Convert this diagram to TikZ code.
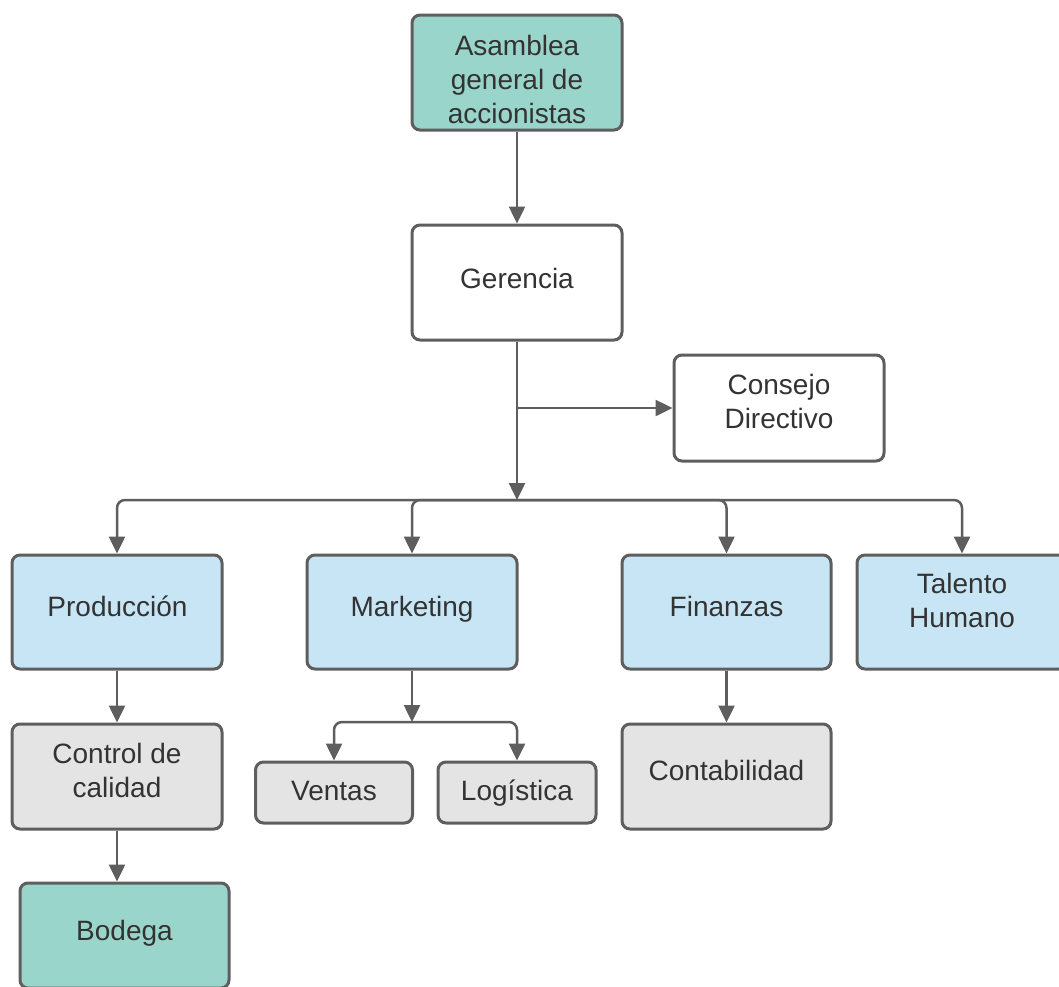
\documentclass[tikz,border=0pt]{standalone}
\usepackage{fontspec}
\setmainfont{Liberation Sans}
\usetikzlibrary{arrows.meta}
\definecolor{tealfill}{HTML}{99D5CA}
\definecolor{bluefill}{HTML}{C7E5F5}
\definecolor{grayfill}{HTML}{E4E4E4}
\definecolor{linec}{HTML}{5E5E5E}
\definecolor{textc}{HTML}{333333}
\newcommand{\txtline}[1]{#1\strut}
\begin{document}
\begin{tikzpicture}[x=1pt,y=-1pt,
  box/.style={draw=linec, line width=3pt, rounded corners=8pt, inner sep=0pt},
  txt/.style={text=textc, font=\fontsize{28}{34}\selectfont, align=center, inner sep=0pt},
  teal box/.style={box, fill=tealfill},
  white box/.style={box, fill=white},
  blue box/.style={box, fill=bluefill},
  gray box/.style={box, fill=grayfill},
  conn/.style={draw=linec, line width=2.5pt, rounded corners=8pt,
    -{Triangle[width=16pt,length=17pt]}}]
\useasboundingbox (0,0) rectangle (1059,986);
\clip (0,0) rectangle (1059,986);
\fill[white] (0,0) rectangle (1059,986);

% boxes
\node[teal box, minimum width=210pt, minimum height=115pt] (asam) at (517,72.5) {};
\node[white box, minimum width=210pt, minimum height=115pt] (ger) at (517,282.5) {};
\node[white box, minimum width=210pt, minimum height=106pt] (cons) at (779,408) {};
\node[blue box, minimum width=210pt, minimum height=114pt] (prod) at (117,612) {};
\node[blue box, minimum width=210pt, minimum height=114pt] (mkt) at (412,612) {};
\node[blue box, minimum width=209pt, minimum height=114pt] (fin) at (726.5,612) {};
\node[blue box, minimum width=210pt, minimum height=114pt] (tal) at (962,612) {};
\node[gray box, minimum width=210pt, minimum height=105pt] (ctrl) at (117,776.5) {};
\node[gray box, minimum width=157pt, minimum height=61pt] (ven) at (334,792.5) {};
\node[gray box, minimum width=158pt, minimum height=61pt] (log) at (517,792.5) {};
\node[gray box, minimum width=209pt, minimum height=105pt] (cont) at (726.5,776.5) {};
\node[teal box, minimum width=209pt, minimum height=105pt] (bod) at (124.5,935.5) {};

% texts
\node[txt] (asam-t) at (517,82.2) {\txtline{Asamblea}\\\txtline{general de}\\\txtline{accionistas}};
\node[txt] (ger-t) at (517,281.2) {\txtline{Gerencia}};
\node[txt] (cons-t) at (779,404.9) {\txtline{Consejo}\\\txtline{Directivo}};
\node[txt] (prod-t) at (117.5,610) {\txtline{Producción}};
\node[txt] (mkt-t) at (412,610) {\txtline{Marketing}};
\node[txt] (fin-t) at (726.5,610) {\txtline{Finanzas}};
\node[txt] (tal-t) at (962,603.2) {\txtline{Talento}\\\txtline{Humano}};
\node[txt] (ctrl-t) at (117,773.2) {\txtline{Control de}\\\txtline{calidad}};
\node[txt] (ven-t) at (334,794) {\txtline{Ventas}};
\node[txt] (log-t) at (517,794) {\txtline{Logística}};
\node[txt] (cont-t) at (726.5,774) {\txtline{Contabilidad}};
\node[txt] (bod-t) at (124.5,934) {\txtline{Bodega}};

% connectors
\coordinate (j) at (517,500);
\coordinate (b) at (517,408);
\coordinate (mj) at (412,722);

\draw[conn] (asam.south) -- (ger.north);
\draw[conn] (ger.south) -- (j);
\draw[conn] (b) -- (cons.west);
\draw[conn] (j) -| (prod.north);
\draw[conn] (j) -| (mkt.north);
\draw[conn] (j) -| (fin.north);
\draw[conn] (j) -| (tal.north);
\draw[conn] (prod.south) -- (ctrl.north);
\draw[conn] (ctrl.south) -- (ctrl.south |- bod.north);
\draw[conn] (mkt.south) -- (mj);
\draw[conn] (mj) -| (ven.north);
\draw[conn] (mj) -| (log.north);
\draw[conn] (fin.south) -- (cont.north);
\end{tikzpicture}
\end{document}
